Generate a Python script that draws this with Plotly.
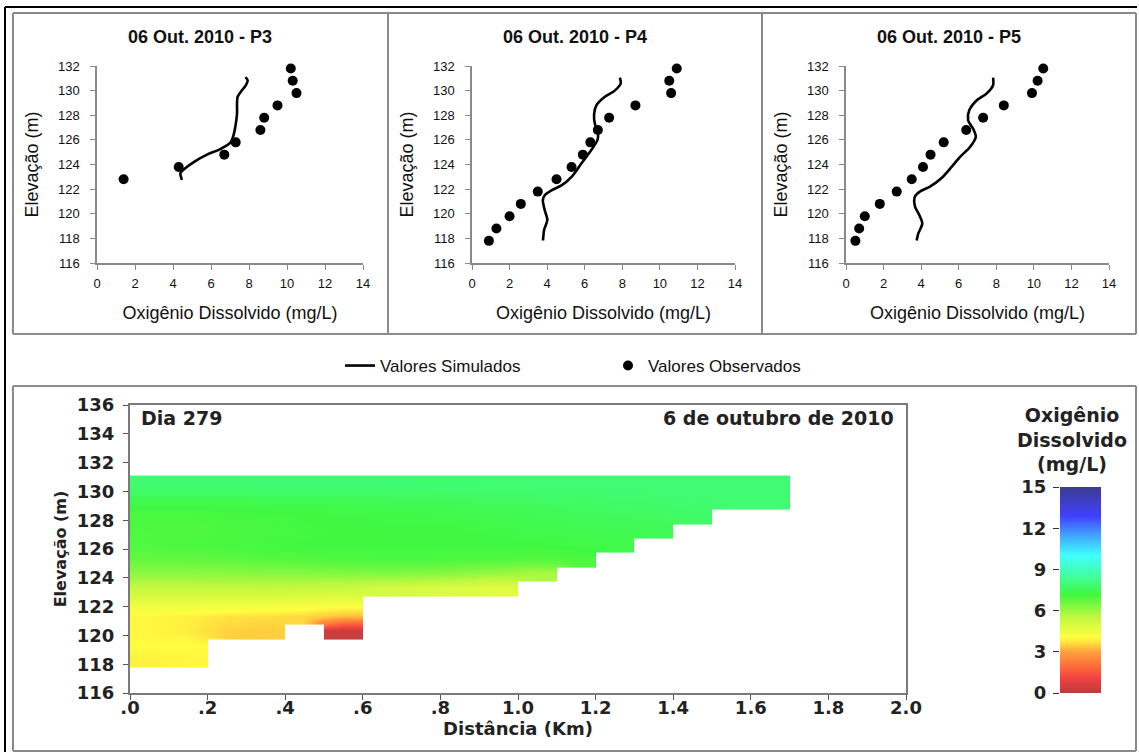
import numpy as np
import plotly.graph_objects as go

W, H = 1139, 754

# ---------------- profile data (Oxigênio Dissolvido x Elevação) ----------------
elev_obs_p3 = [122.8, 123.8, 124.8, 125.8, 126.8, 127.8, 128.8, 129.8, 130.8, 131.8]
do_obs_p3 = [1.4, 4.3, 6.7, 7.3, 8.6, 8.8, 9.5, 10.5, 10.3, 10.2]
elev_sim_p3 = [122.75, 123.3, 123.55, 124.2, 124.8, 125.25, 125.77, 126.4, 127.06,
               128.14, 128.95, 129.5, 130.03, 130.44, 130.84, 131.1]
do_sim_p3 = [4.47, 4.39, 4.53, 5.09, 5.79, 6.49, 7.02, 7.19, 7.28,
             7.37, 7.37, 7.40, 7.63, 7.84, 7.93, 7.81]

elev_obs_p45 = [117.8, 118.8, 119.8, 120.8, 121.8, 122.8, 123.8, 124.8, 125.8,
                126.8, 127.8, 128.8, 129.8, 130.8, 131.8]
do_obs_p4 = [0.9, 1.3, 2.0, 2.6, 3.5, 4.5, 5.3, 5.9, 6.3, 6.7, 7.3, 8.7, 10.6, 10.5, 10.9]
do_obs_p5 = [0.5, 0.7, 1.0, 1.8, 2.7, 3.5, 4.1, 4.5, 5.2, 6.4, 7.3, 8.4, 9.9, 10.2, 10.5]

elev_sim_p4 = [117.83, 118.7, 119.5, 120.3, 121.1, 121.5, 121.9, 122.3, 123.0, 124.1,
               125.2, 126.0, 126.5, 127.3, 128.1, 128.8, 129.5, 130.0, 130.6, 131.06]
do_sim_p4 = [3.78, 3.84, 4.01, 3.87, 3.77, 3.87, 4.23, 4.76, 5.3, 5.83,
             6.36, 6.68, 6.71, 6.54, 6.50, 6.62, 7.07, 7.6, 7.92, 7.87]

elev_sim_p5 = [117.83, 118.4, 119.2, 119.9, 120.6, 121.4, 121.8, 122.2, 122.9, 123.8,
               124.6, 125.4, 126.25, 126.9, 127.6, 128.4, 129.2, 129.76, 130.44, 131.06]
do_sim_p5 = [3.76, 3.85, 4.06, 3.9, 3.67, 3.67, 3.93, 4.47, 5.09, 5.62,
             6.06, 6.59, 6.91, 6.77, 6.5, 6.56, 6.95, 7.48, 7.83, 7.83]

panel_titles = ["06 Out. 2010 - P3", "06 Out. 2010 - P4", "06 Out. 2010 - P5"]

# ---------------- longitudinal section (heatmap) ----------------
dist_edges = [0.0, 0.1, 0.2, 0.3, 0.4, 0.5, 0.6, 0.7, 0.8, 0.9, 1.0,
              1.1, 1.2, 1.3, 1.4, 1.5, 1.6, 1.7]
elev_edges = [117.8, 118.8, 119.8, 120.8, 121.8, 122.8, 123.8, 124.8, 125.8,
              126.8, 127.8, 128.8, 129.8, 131.1]
N = None
od_layer_00 = [3.9, 3.95, N, N, N, N, N, N, N, N, N, N, N, N, N, N, N]
od_layer_01 = [4.05, 4.05, N, N, N, N, N, N, N, N, N, N, N, N, N, N, N]
od_layer_02 = [3.95, 3.85, 3.55, 3.5, N, 0.3, N, N, N, N, N, N, N, N, N, N, N]
od_layer_03 = [3.95, 3.9, 3.75, 3.7, 3.6, 3.3, N, N, N, N, N, N, N, N, N, N, N]
od_layer_04 = [4.6, 4.6, 4.5, 4.5, 4.45, 4.4, N, N, N, N, N, N, N, N, N, N, N]
od_layer_05 = [5.4, 5.4, 5.45, 5.45, 5.4, 5.3, 5.1, 5.0, 4.9, 4.7, N, N, N, N, N, N, N]
od_layer_06 = [6.2, 6.2, 6.2, 6.25, 6.25, 6.3, 6.35, 6.3, 6.2, 6.0, 5.8, N, N, N, N, N, N]
od_layer_07 = [6.7, 6.75, 6.8, 6.9, 6.95, 7.0, 7.05, 7.05, 7.0, 7.0, 6.9, 7.0, N, N, N, N, N]
od_layer_08 = [7.0, 7.05, 7.1, 7.15, 7.2, 7.2, 7.2, 7.2, 7.2, 7.2, 7.25, 7.3, 7.35, N, N, N, N]
od_layer_09 = [7.0, 7.0, 7.05, 7.1, 7.15, 7.2, 7.2, 7.2, 7.25, 7.3, 7.35, 7.4, 7.45, 7.5, N, N, N]
od_layer_10 = [7.05, 7.05, 7.1, 7.15, 7.2, 7.25, 7.3, 7.3, 7.35, 7.4, 7.45, 7.55, 7.6, 7.65, 7.75, N, N]
od_layer_11 = [7.35, 7.35, 7.35, 7.4, 7.4, 7.45, 7.45, 7.5, 7.55, 7.6, 7.65, 7.7, 7.75, 7.8, 7.85, 7.9, 7.9]
od_layer_12 = [7.9, 7.9, 7.9, 7.9, 7.9, 7.9, 7.9, 7.9, 7.9, 7.9, 7.95, 7.95, 7.95, 7.95, 7.95, 7.95, 7.95]
od_grid = [od_layer_00, od_layer_01, od_layer_02, od_layer_03, od_layer_04, od_layer_05,
           od_layer_06, od_layer_07, od_layer_08, od_layer_09, od_layer_10, od_layer_11,
           od_layer_12]

cbar_ticks = [0, 3, 6, 9, 12, 15]
dist_ticks = [0, 0.2, 0.4, 0.6, 0.8, 1.0, 1.2, 1.4, 1.6, 1.8, 2.0]
dist_ticklabels = [".0", ".2", ".4", ".6", ".8", "1.0", "1.2", "1.4", "1.6", "1.8", "2.0"]

od_colorscale = [
    [0.00, "#b83c3c"], [0.07, "#f04040"], [0.13, "#ff6a3c"], [0.20, "#ffa03c"],
    [0.27, "#ffff40"], [0.37, "#c0f840"], [0.48, "#40f840"], [0.57, "#40ffa0"],
    [0.67, "#40ffff"], [0.77, "#40a0ff"], [0.86, "#4040ff"], [1.00, "#3c3c90"],
]


def px_x(p):
    return p / W


def px_y(p):
    return 1 - p / H


fig = go.Figure()

AX = ["x", "x2", "x3"]
AY = ["y", "y2", "y3"]
profiles = [
    (do_sim_p3, elev_sim_p3, do_obs_p3, elev_obs_p3),
    (do_sim_p4, elev_sim_p4, do_obs_p4, elev_obs_p45),
    (do_sim_p5, elev_sim_p5, do_obs_p5, elev_obs_p45),
]
for i, (sx, sy, ox, oy) in enumerate(profiles):
    fig.add_trace(go.Scatter(x=sx, y=sy, mode="lines", line=dict(color="black", width=2.6, shape="spline", smoothing=0.8),
                             name="Valores Simulados", showlegend=(i == 0), legendrank=1,
                             xaxis=AX[i], yaxis=AY[i], hoverinfo="skip", cliponaxis=False))
    fig.add_trace(go.Scatter(x=ox, y=oy, mode="markers", marker=dict(color="black", size=10),
                             name="Valores Observados", showlegend=(i == 0), legendrank=2,
                             xaxis=AX[i], yaxis=AY[i], hoverinfo="skip", cliponaxis=False))

fig.add_trace(go.Heatmap(x=dist_edges, y=elev_edges, z=od_grid, zmin=0, zmax=15,
                         colorscale=od_colorscale, zsmooth="best", showscale=False,
                         xaxis="x4", yaxis="y4", hoverinfo="skip"))

cbar_vals = np.linspace(0, 15, 301)
fig.add_trace(go.Heatmap(x=[0], y=cbar_vals, z=[[v] for v in cbar_vals], zmin=0, zmax=15,
                         colorscale=od_colorscale, zsmooth="best", showscale=False,
                         xaxis="x5", yaxis="y5", hoverinfo="skip"))

sans = "Liberation Sans, Arial, sans-serif"
dj = "DejaVu Sans, Verdana, sans-serif"
gray = "#8a8a8a"

top_x_dom = [(97, 363), (472, 735), (846, 1109)]
for i in range(3):
    xa = dict(domain=[px_x(top_x_dom[i][0]), px_x(top_x_dom[i][1])], range=[0, 14], dtick=2,
              showline=True, linecolor=gray, linewidth=1.5, ticks="outside", ticklen=5,
              tickcolor=gray, tickfont=dict(family=sans, size=13, color="#111"),
              showgrid=False, zeroline=False, anchor=AY[i], ticklabelstandoff=3, automargin=False,
              title=dict(text="Oxigênio Dissolvido (mg/L)", font=dict(family=sans, size=18, color="#111"), standoff=16))
    ya = dict(domain=[px_y(263), px_y(66)], range=[116, 132], dtick=2,
              showline=True, linecolor=gray, linewidth=1.5, ticks="outside", ticklen=5,
              tickcolor=gray, tickfont=dict(family=sans, size=13, color="#111"),
              showgrid=False, zeroline=False, anchor=AX[i], ticklabelstandoff=8, automargin=False,
              title=dict(text="Elevação (m)", font=dict(family=sans, size=18, color="#111"), standoff=15))
    sfx = "" if i == 0 else str(i + 1)
    fig.layout["xaxis" + sfx] = xa
    fig.layout["yaxis" + sfx] = ya

fig.layout["xaxis4"] = dict(domain=[px_x(130), px_x(906)], range=[0, 2], tickvals=dist_ticks,
                            ticktext=dist_ticklabels, showline=True, mirror=True, linecolor="#7a7a7a",
                            linewidth=2, ticks="outside", ticklen=5, tickcolor="#555",
                            tickfont=dict(family=dj, size=18, color="#222", weight="bold"),
                            showgrid=False, zeroline=False, anchor="y4", ticklabelstandoff=-8, automargin=False,
                            title=dict(text="Distância (Km)", font=dict(family=dj, size=18, color="#222", weight="bold"), standoff=0))
fig.layout["yaxis4"] = dict(domain=[px_y(693), px_y(405)], range=[116, 136], dtick=2,
                            showline=True, mirror=True, linecolor="#7a7a7a", linewidth=2,
                            ticks="outside", ticklen=5, tickcolor="#555",
                            tickfont=dict(family=dj, size=18, color="#222", weight="bold"),
                            showgrid=False, zeroline=False, anchor="x4", ticklabelstandoff=5, automargin=False,
                            title=dict(text="Elevação (m)", font=dict(family=dj, size=16, color="#222", weight="bold"), standoff=6))
fig.layout["xaxis5"] = dict(domain=[px_x(1060), px_x(1101)], range=[-0.5, 0.5], visible=False,
                            anchor="y5", automargin=False)
fig.layout["yaxis5"] = dict(domain=[px_y(693), px_y(487)], range=[0, 15], tickvals=cbar_ticks,
                            showline=False, ticks="outside", ticklen=6, tickcolor="#333",
                            tickfont=dict(family=dj, size=18, color="#222", weight="bold"),
                            showgrid=False, zeroline=False, anchor="x5", ticklabelstandoff=3, automargin=False)

annotations = []
title_cx = [200, 575, 949]
for i, t in enumerate(panel_titles):
    annotations.append(dict(text=t, x=px_x(title_cx[i]), y=px_y(37), xref="paper", yref="paper",
                            showarrow=False, xanchor="center", yanchor="middle",
                            font=dict(family=sans, size=18, color="#111", weight="bold")))
annotations.append(dict(text="Dia 279", x=0.012, y=0.955, xref="x4 domain", yref="y4 domain",
                        showarrow=False, xanchor="left", yanchor="middle",
                        font=dict(family=dj, size=19, color="#222", weight="bold")))
annotations.append(dict(text="6 de outubro de 2010", x=0.987, y=0.955, xref="x4 domain", yref="y4 domain",
                        showarrow=False, xanchor="right", yanchor="middle",
                        font=dict(family=dj, size=19, color="#222", weight="bold")))
annotations.append(dict(text="Oxigênio<br>Dissolvido<br>(mg/L)", x=px_x(1072), y=px_y(439),
                        xref="paper", yref="paper", showarrow=False, xanchor="center", yanchor="middle",
                        align="center", font=dict(family=dj, size=19, color="#222", weight="bold")))

shapes = []
def seg(x0, y0, x1, y1, color, width):
    shapes.append(dict(type="line", xref="paper", yref="paper", x0=px_x(x0), y0=px_y(y0),
                       x1=px_x(x1), y1=px_y(y1), line=dict(color=color, width=width)))

# outer frame
seg(5, 7, 1137, 7, "#000", 2)
seg(5, 7, 5, 752, "#000", 2)
# top panels frame
seg(13, 13, 1136, 13, gray, 2)
seg(13, 13, 13, 334, gray, 2)
seg(13, 334, 1136, 334, gray, 2)
seg(1136, 13, 1136, 334, gray, 2)
seg(388, 13, 388, 334, gray, 2)
seg(762, 13, 762, 334, gray, 2)
# bottom box
seg(13, 386, 1136, 386, gray, 2)
seg(13, 386, 13, 751, gray, 2)
seg(13, 751, 1136, 751, gray, 2)
seg(1136, 386, 1136, 751, gray, 2)

fig.update_layout(
    width=W, height=H, autosize=False,
    margin=dict(l=0, r=0, t=0, b=0, autoexpand=False),
    paper_bgcolor="white", plot_bgcolor="white",
    showlegend=True,
    legend=dict(orientation="h", x=px_x(340), y=px_y(366), xanchor="left", yanchor="middle",
                font=dict(family=sans, size=17, color="#111"), entrywidth=223, entrywidthmode="pixels",
                bgcolor="rgba(0,0,0,0)", traceorder="normal"),
    annotations=annotations,
    shapes=shapes,
)

fig.write_html("out.html")
